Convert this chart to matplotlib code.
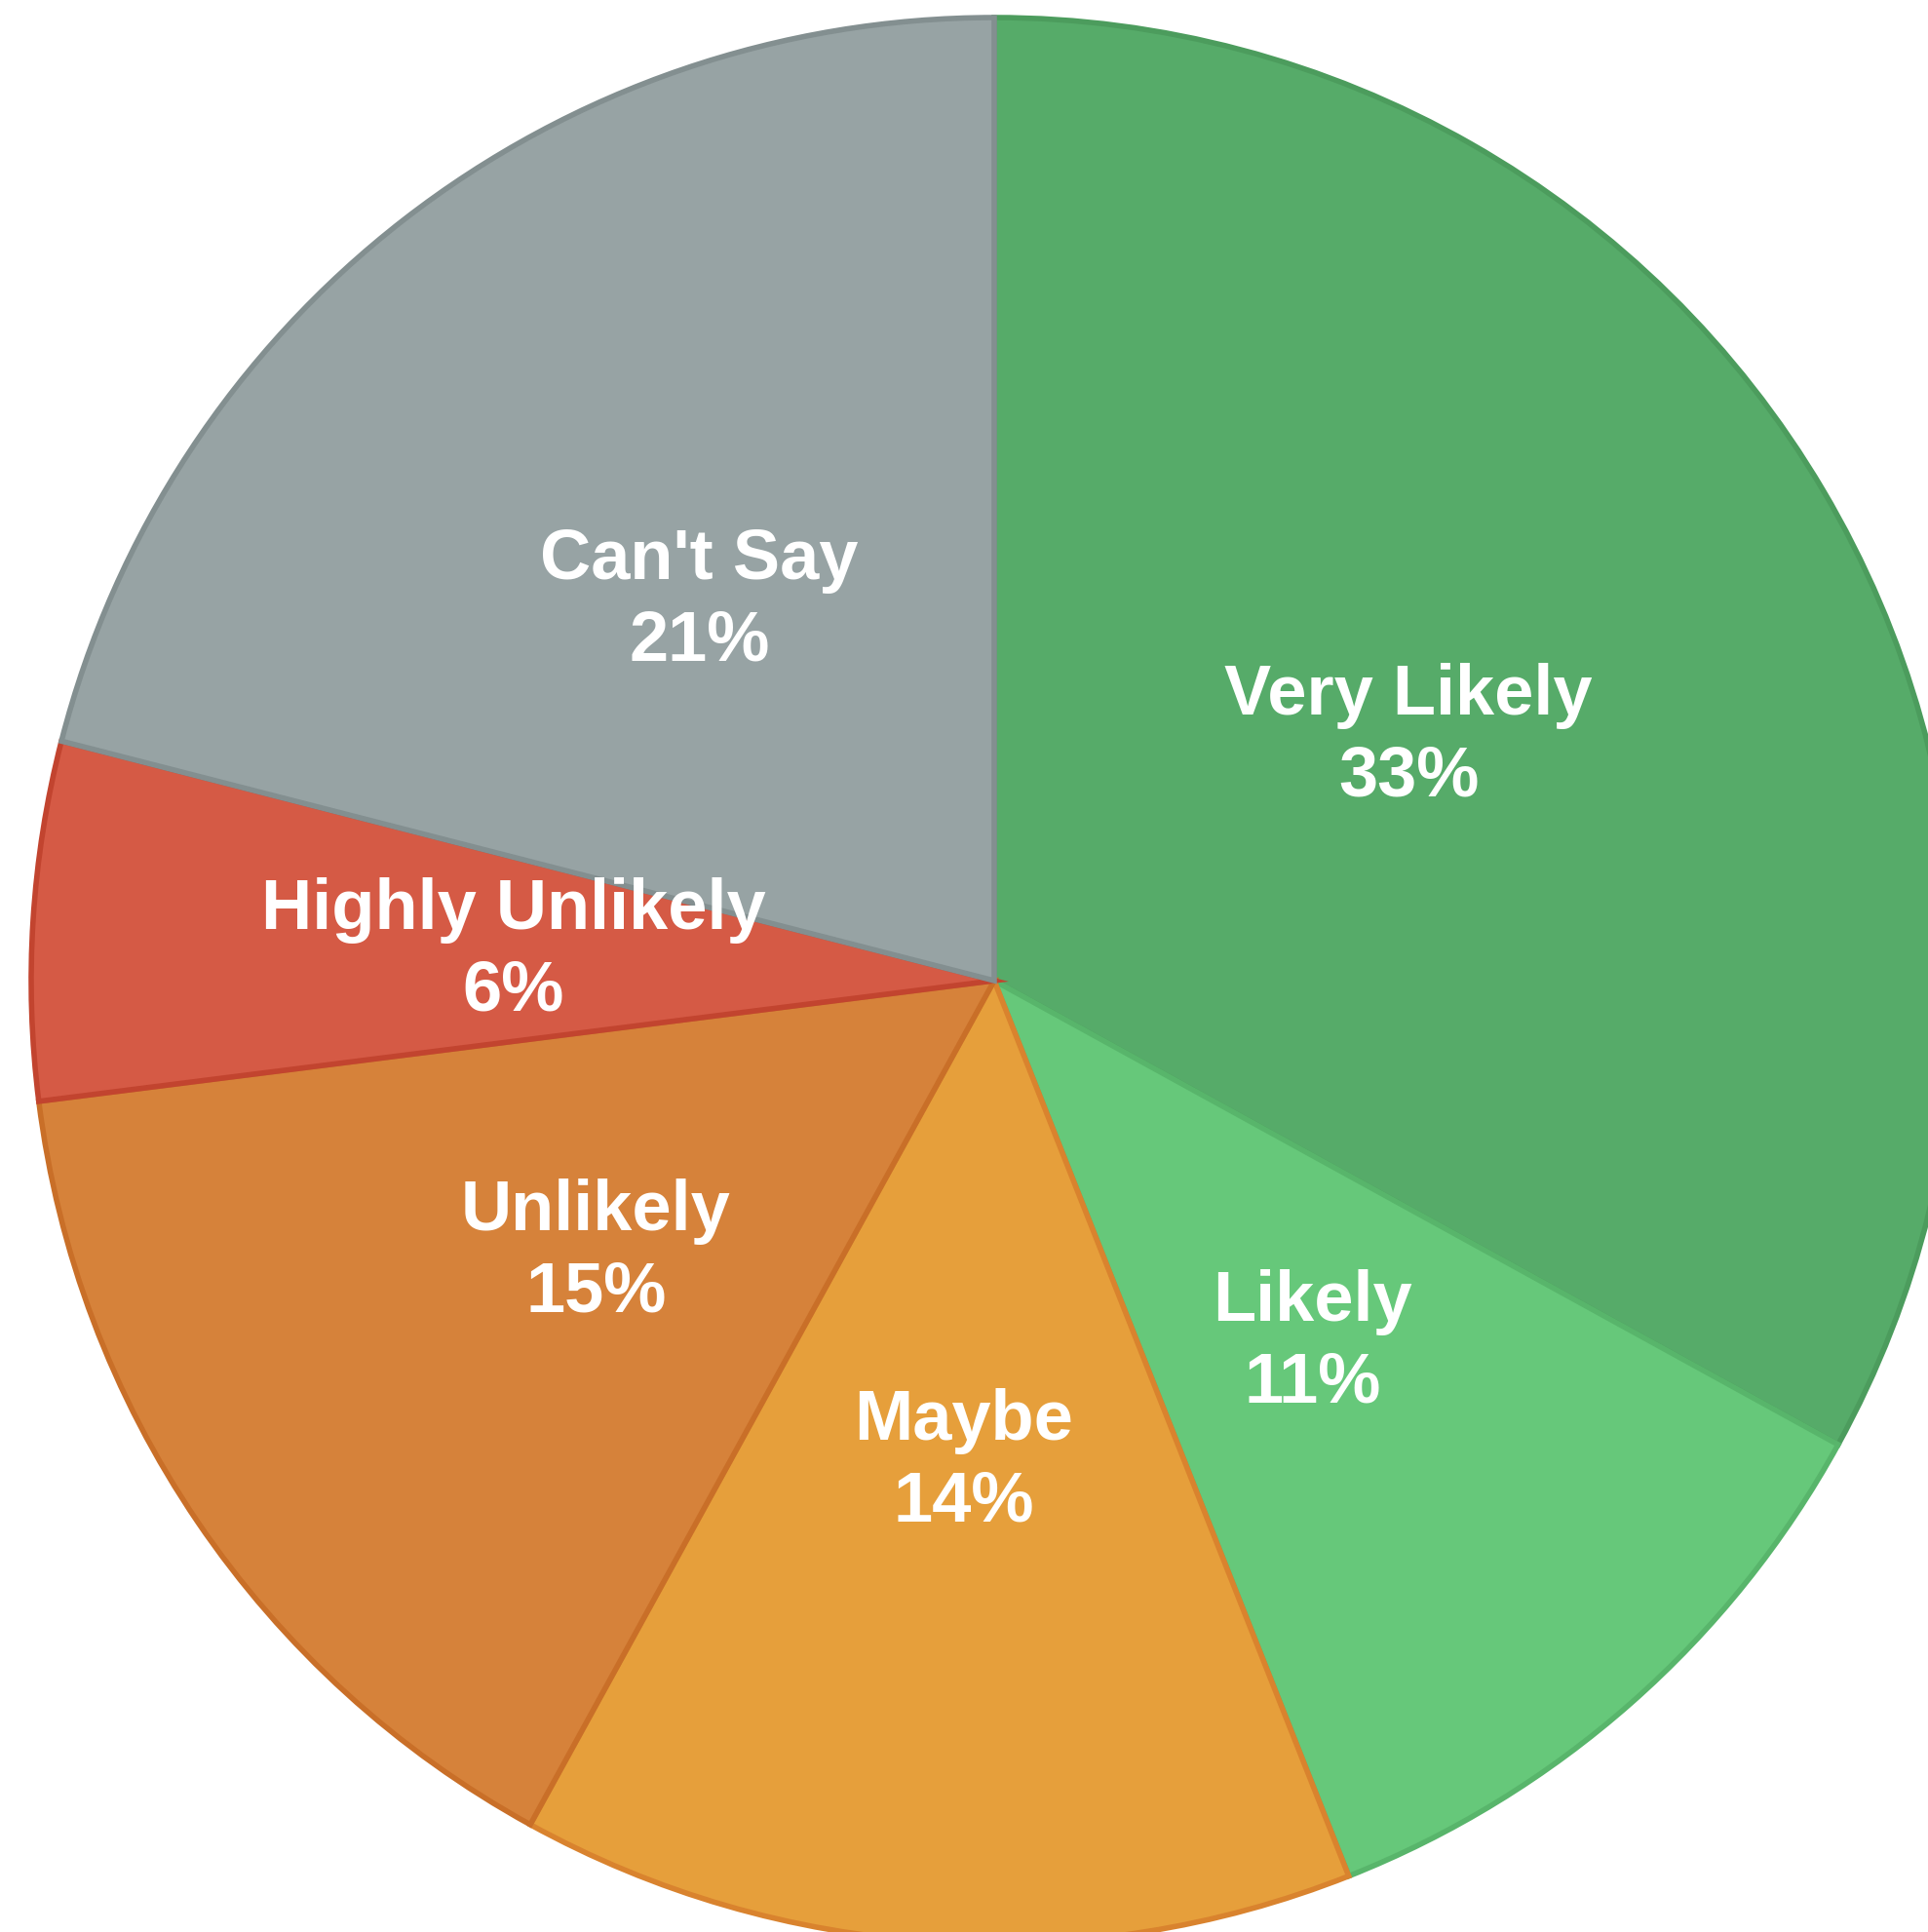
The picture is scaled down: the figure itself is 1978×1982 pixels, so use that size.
import numpy as np
import matplotlib.pyplot as plt

# data
labels = ["Very Likely", "Likely", "Maybe", "Unlikely", "Highly Unlikely", "Can't Say"]
values = [33, 11, 14, 15, 6, 21]
colors = ["#56ab69", "#66c87a", "#e69f3b", "#d6823a", "#d55a45", "#97a3a4"]
edges = ["#4c9c5d", "#58b56b", "#d9832e", "#c96f28", "#c2442f", "#838f90"]

W, H = 1978, 1983
CX, CY, R = 1020, 1007, 988  # pie centre / radius in pixels

fig = plt.figure(figsize=(W / 100, H / 100), dpi=100)
ax = fig.add_axes([0, 0, 1, 1])

wedges, _ = ax.pie(values, colors=colors, startangle=90, counterclock=False,
                   radius=1.0, center=(0, 0), frame=True)
for w, ec in zip(wedges, edges):
    w.set_edgecolor(ec)
    w.set_linewidth(4)
    w.set_joinstyle('miter')
ax.axis('off')
ax.set_aspect('equal')
ax.set_xlim(-CX / R, (W - CX) / R)
ax.set_ylim(-(H - CY) / R, CY / R)

total = sum(values)
for w, lab, v in zip(wedges, labels, values):
    mid = np.deg2rad((w.theta1 + w.theta2) / 2)
    x, y = 0.5 * np.cos(mid), 0.5 * np.sin(mid)
    ax.text(x, y, f"{lab}\n{round(100 * v / total)}%", ha='center', va='center',
            color='white', fontsize=52, fontweight='bold',
            family='Liberation Sans', linespacing=1.3)

fig.savefig("out.png", dpi=100, facecolor='white')
